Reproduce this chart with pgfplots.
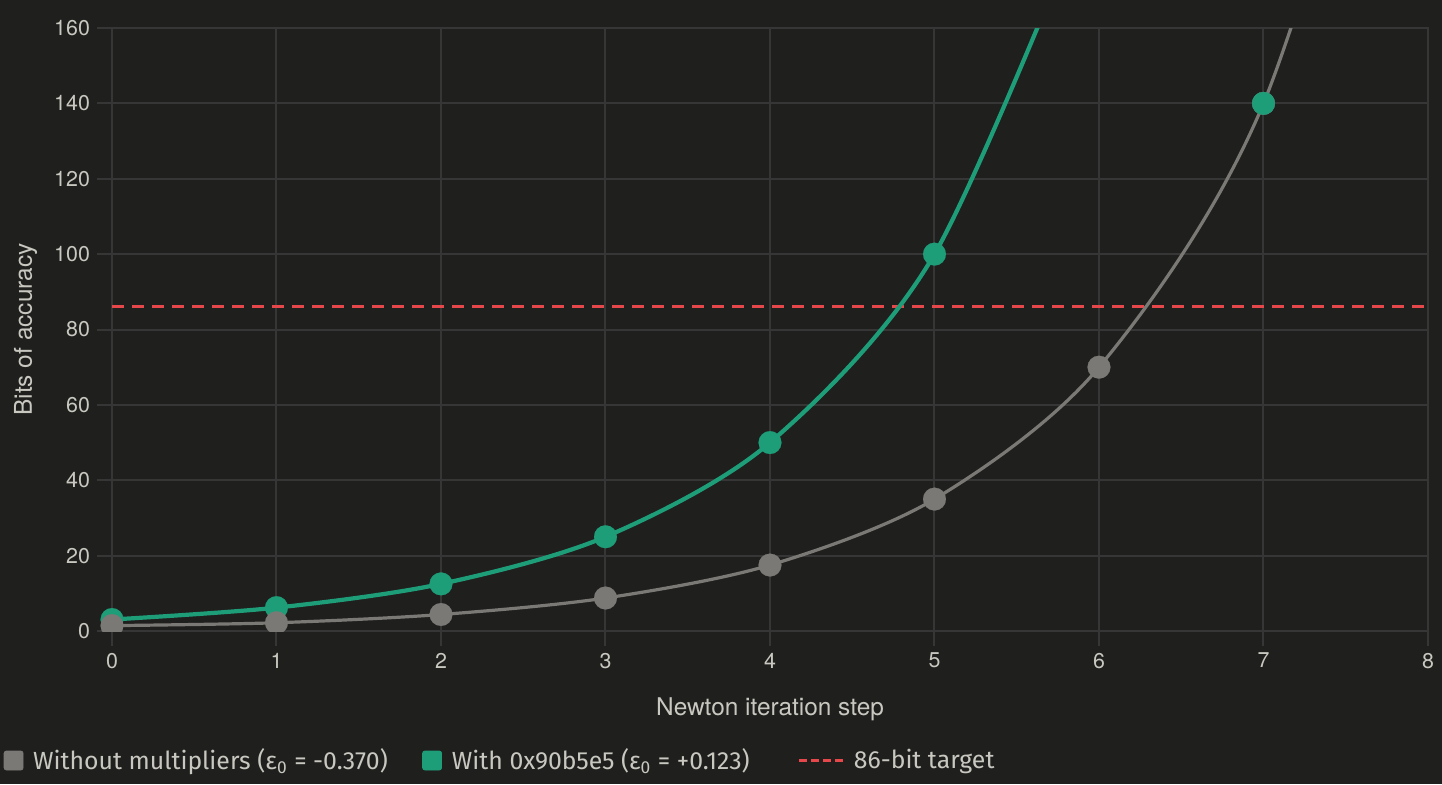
\documentclass[border=0pt]{standalone}
\usepackage{pgfplots}
\pgfplotsset{compat=1.18}
\usepackage{fontspec}
\setmainfont{TeX Gyre Heros}
\newfontfamily\legfont{Fira Sans}
\definecolor{bg}{HTML}{1F1F1E}
\definecolor{gridc}{HTML}{363636}
\definecolor{txt}{HTML}{C9C8C0}
\definecolor{grn}{HTML}{1E9E78}
\definecolor{gry}{HTML}{7B7975}
\definecolor{redd}{HTML}{E5474A}
\begin{document}
\begin{tikzpicture}
\fill[bg] (-56pt,-76.5pt) rectangle (665pt,315.5pt);
\begin{axis}[
  at={(0pt,0pt)}, anchor=south west,
  scale only axis, width=658pt, height=301.5pt,
  xmin=0, xmax=8, ymin=0, ymax=160,
  xtick={0,1,...,8}, ytick={0,20,...,160},
  grid=major,
  major grid style={gridc, line width=1pt},
  axis line style={gridc, line width=1pt},
  tick style={gridc, line width=1pt},
  tick align=outside, major tick length=7.5pt,
  xtick pos=bottom, ytick pos=left,
  /pgf/number format/assume math mode=true,
  ticklabel style={text=txt, font=\fontsize{10.7}{12}\selectfont},
  xlabel={Newton iteration step}, ylabel={Bits of accuracy},
  label style={text=txt, font=\fontsize{12.2}{14}\selectfont},
  xlabel style={at={([yshift=-42pt]axis description cs:0.5,0)}, anchor=base},
  ylabel style={at={([xshift=-40pt]axis description cs:0,0.5)}, anchor=base, rotate=0},
  legend columns=3,
  legend style={at={([xshift=-54.35pt,yshift=-64.75pt]axis description cs:0,0)}, anchor=west,
    draw=none, fill=none, inner sep=0pt, text=txt,
    nodes={inner sep=0pt, font=\legfont\fontsize{12.4}{14}\selectfont},
    /tikz/column sep=0pt},
]
\addlegendimage{legend image code/.code={\fill[gry, rounded corners=1.2pt] (0pt,-4.75pt) rectangle (9.5pt,4.75pt); \path (14.35pt,0pt);}}
\addlegendentry{\makebox[194.5pt][l]{Without multipliers (ε\textsubscript{0} = -0.370)}}
\addlegendimage{legend image code/.code={\fill[grn, rounded corners=1.2pt] (0pt,-4.75pt) rectangle (9.5pt,4.75pt); \path (14.5pt,0pt);}}
\addlegendentry{\makebox[173pt][l]{With 0x90b5e5 (ε\textsubscript{0} = +0.123)}}
\addlegendimage{legend image code/.code={\draw[redd, line width=1.5pt, dash pattern=on 4pt off 2pt] (0pt,0pt) -- (23.5pt,0pt); \path (27pt,0pt);}}
\addlegendentry{86-bit target}

\addplot[forget plot, redd, line width=1.5pt, dash pattern=on 6pt off 4pt] coordinates {(0,86) (8,86)};
\addplot[forget plot, grn, line width=2.1pt, smooth] coordinates {
(0,3.05) (1,6.2) (2,12.5) (3,25) (4,50) (5,100) (6,200)};
\addplot[forget plot, gry, line width=1.6pt, smooth] coordinates {
(0,1.43) (1,2.19) (2,4.38) (3,8.75) (4,17.5) (5,35) (6,70) (7,140) (8,280)};
\end{axis}
\begin{axis}[
  at={(-8.225pt,0pt)}, anchor=south west,
  scale only axis, width=674.45pt, height=301.5pt,
  xmin=-0.1, xmax=8.1, ymin=0, ymax=160,
  hide axis, clip marker paths=true,
]
\addplot[only marks, mark=*, mark size=5.7pt, mark options={fill=grn, draw=grn, line width=0.1pt}] coordinates {
(0,3.05) (1,6.2) (2,12.5) (3,25) (4,50) (5,100)};
\addplot[only marks, mark=*, mark size=5.7pt, mark options={fill=gry, draw=gry, line width=0.1pt}] coordinates {
(0,1.43) (1,2.19) (2,4.38) (3,8.75) (4,17.5) (5,35) (6,70) (7,140)};
\addplot[only marks, mark=*, mark size=5.7pt, mark options={fill=grn, draw=grn, line width=0.1pt}] coordinates {
(7,140)};
\end{axis}
\pgfresetboundingbox
\path[use as bounding box] (-56pt,-76.5pt) rectangle (665pt,315.5pt);
\end{tikzpicture}
\end{document}
